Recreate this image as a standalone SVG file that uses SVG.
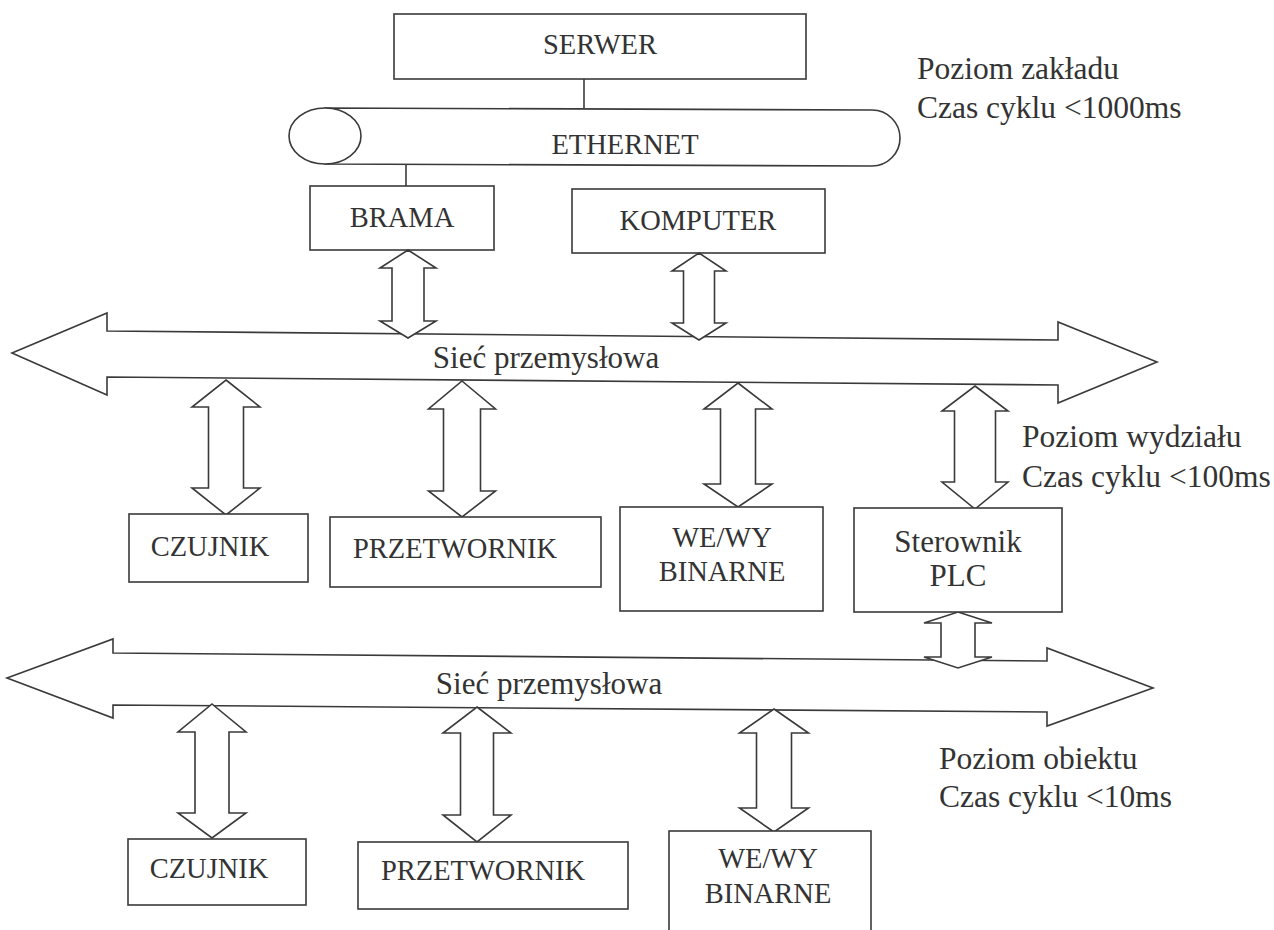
<svg xmlns="http://www.w3.org/2000/svg" width="1274" height="930" viewBox="0 0 1274 930">
<style>
.s{fill:#fff;stroke:#3a3a3a;stroke-width:1.6;stroke-linejoin:miter}
.l{fill:none;stroke:#3a3a3a;stroke-width:1.6}
text{font-family:'Liberation Serif','Times New Roman',Times,'DejaVu Serif',serif;fill:#333}
.t{font-size:28.5px;text-anchor:middle}
.b{font-size:31px;text-anchor:middle}
.r{font-size:31.5px}
</style>
<rect width="1274" height="930" fill="#fff"/>
<g id="connectors">
<line class="l" x1="584" y1="78" x2="584" y2="108"/>
<line class="l" x1="406" y1="164" x2="406" y2="186"/>
</g>
<g id="serwer"><rect class="s" x="394" y="14" width="412" height="65"/><text class="t" x="600" y="54">SERWER</text></g>
<g id="ethernet">
<path class="s" d="M325,108 L872,110 A28,28 0 0 1 872,166 L325,164 Z"/>
<ellipse class="s" cx="325" cy="136" rx="36" ry="28"/>
<text class="t" x="625" y="154">ETHERNET</text>
</g>
<g id="brama"><rect class="s" x="310" y="186" width="184" height="64"/><text class="t" x="402" y="227">BRAMA</text></g>
<g id="komputer"><rect class="s" x="572" y="189" width="253" height="64"/><text class="t" x="698" y="230">KOMPUTER</text></g>
<g id="bus1">
<polygon class="s" points="12,353 107,313 107,331 1058,340 1058,322 1157,362 1058,403 1058,385 107,377 107,395"/>
<text class="b" x="546" y="368">Sieć przemysłowa</text>
</g>
<g id="bus2">
<polygon class="s" points="7,678 113,639 113,653 1047,661 1047,648 1153,688 1047,726 1047,712 113,705 113,718"/>
<text class="b" x="549" y="694">Sieć przemysłowa</text>
</g>
<g id="arrows">
<polygon class="s" points="408,250 436,268 424,268 424,321 436,321 408,338 380,321 392,321 392,268 380,268"/>
<polygon class="s" points="699,253 726,271 714.5,271 714.5,323 726,323 699,340 672,323 683.5,323 683.5,271 672,271"/>
<polygon class="s" points="226,380 260,407 243.5,407 243.5,488 260,488 226,515 192,488 208.5,488 208.5,407 192,407"/>
<polygon class="s" points="462,381 495.5,409 480.5,409 480.5,491 495.5,491 462,517 428.5,491 443.5,491 443.5,409 428.5,409"/>
<polygon class="s" points="738,383 772,409 755.5,409 755.5,484 772,484 738,507 704,484 720.5,484 720.5,409 704,409"/>
<polygon class="s" points="975,386 1008,411 995.5,411 995.5,482 1008,482 975,509 942,482 954.5,482 954.5,411 942,411"/>
<polygon class="s" points="958,612 992,623 975,623 975,657 992,657 958,668 924,657 941,657 941,623 924,623"/>
<polygon class="s" points="212,704 246,732 229,732 229,813 246,813 212,838 178,813 195,813 195,732 178,732"/>
<polygon class="s" points="477,707 511,733 493.5,733 493.5,815 511,815 477,842 443,815 460.5,815 460.5,733 443,733"/>
<polygon class="s" points="774,709 808.5,733 791.5,733 791.5,808 808.5,808 774,832 739.5,808 756.5,808 756.5,733 739.5,733"/>
</g>
<g id="czujnik1"><rect class="s" x="129" y="514" width="179" height="68"/><text class="t" x="210" y="556">CZUJNIK</text></g>
<g id="przetwornik1"><rect class="s" x="330" y="517" width="271" height="70"/><text class="t" x="455" y="558">PRZETWORNIK</text></g>
<g id="wewy1"><rect class="s" x="620" y="507" width="203" height="104"/><text class="t" x="722" y="547">WE/WY</text><text class="t" x="722" y="581">BINARNE</text></g>
<g id="sterownik"><rect class="s" x="854" y="508" width="208" height="104"/><text class="b" x="958" y="552">Sterownik</text><text class="b" x="958" y="586">PLC</text></g>
<g id="czujnik2"><rect class="s" x="128" y="839" width="178" height="66"/><text class="t" x="209" y="878">CZUJNIK</text></g>
<g id="przetwornik2"><rect class="s" x="358" y="842" width="270" height="67"/><text class="t" x="483" y="880">PRZETWORNIK</text></g>
<g id="wewy2"><rect class="s" x="669" y="831" width="202" height="110"/><text class="t" x="768" y="868">WE/WY</text><text class="t" x="768" y="903">BINARNE</text></g>
<g id="labels">
<text class="r" x="917" y="79">Poziom zakładu</text>
<text class="r" x="917" y="118">Czas cyklu &lt;1000ms</text>
<text class="r" x="1022" y="447">Poziom wydziału</text>
<text class="r" x="1022" y="487">Czas cyklu &lt;100ms</text>
<text class="r" x="939" y="769">Poziom obiektu</text>
<text class="r" x="939" y="807">Czas cyklu &lt;10ms</text>
</g>
</svg>
